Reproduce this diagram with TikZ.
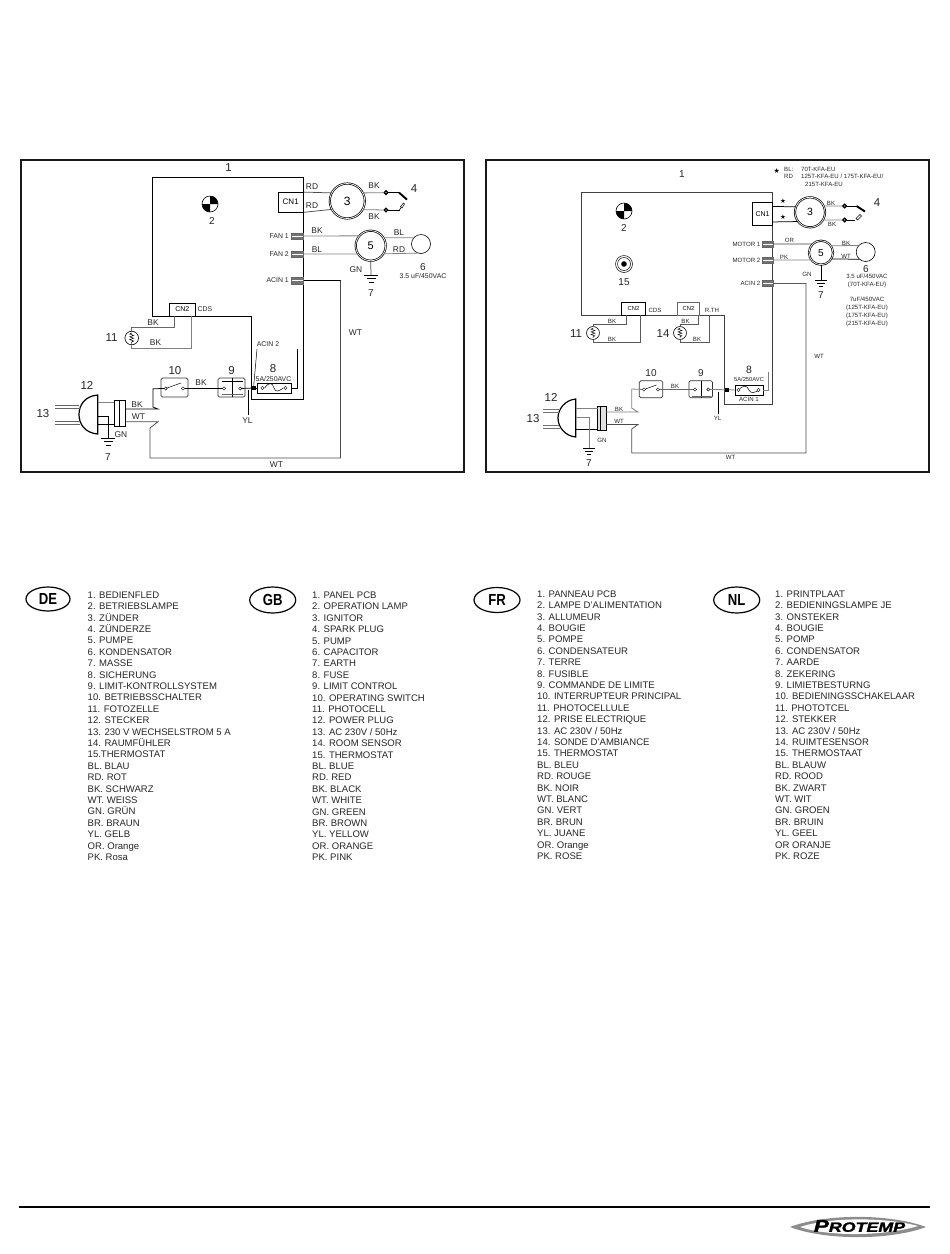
\documentclass[tikz,border=0pt]{standalone}
\usepackage{fontspec}
\setmainfont{Liberation Sans}
\newfontfamily\djv{DejaVu Sans}
\newfontfamily\logofont{Liberation Sans}[BoldItalicFeatures={FakeBold=1.6}]
\usetikzlibrary{calc}
\tikzset{
  x=1pt,y=-1pt,
  frame/.style={draw=black!90,line width=2},
  board/.style={draw=black,line width=.75},
  wire/.style={draw=black,line width=.75},
  gwire/.style={draw=black!50,line width=.8},
  lab/.style={inner sep=0,font=\fontsize{8.4}{9}\selectfont,text=black!85},
  labm/.style={inner sep=0,font=\fontsize{6.9}{8}\selectfont,text=black!85},
  labs/.style={inner sep=0,font=\fontsize{6.1}{7}\selectfont,text=black!85},
  num/.style={inner sep=0,font=\fontsize{11.5}{12}\selectfont,text=black!85},
  nums/.style={inner sep=0,font=\fontsize{10}{11}\selectfont,text=black!85},
  motor/.style={circle,draw=black,double=white,double distance=.7,line width=.7,inner sep=0},
  capac/.style={circle,draw=black,line width=.6,inner sep=0,minimum size=19},
  tbox/.style={draw=black,line width=.7,inner sep=0},
  ubox/.style={draw=black!80,line width=.7,rounded corners=1.5,inner sep=0},
  termA/.style={circle,draw=black,line width=1.3,fill=white,inner sep=0,minimum size=3.6},
  termB/.style={circle,draw=black,line width=.45,fill=white,inner sep=0,minimum size=3.2},
  hatchbox/.style={draw=black!60,fill=black!55,line width=.4,inner sep=0,minimum width=#1,minimum height=6.5,
    path picture={\draw[white,line width=.55] (path picture bounding box.west)--(path picture bounding box.east);}},
  legend/.style={anchor=north west,inner sep=0,align=left,font=\fontsize{9.55}{11.4}\selectfont,text=black!85},
  gnd/.pic={\draw[line width=.7] (-7,0)--(7,0); \draw[line width=.5] (-4.5,3.5)--(4.5,3.5); \draw[line width=.4] (-2.5,7)--(2.5,7);},
  lamp/.pic={\draw[line width=.6,fill=white] (0,0) circle[radius=8];
    \fill (0,0)--(8,0) arc[start angle=0,end angle=-90,radius=8]--cycle;
    \fill (0,0)--(-8,0) arc[start angle=180,end angle=90,radius=8]--cycle;},
  therm/.pic={\draw[line width=.6] (0,0) circle[radius=6.8];
    \draw[line width=.5] (0,-5)--(-2,-4)--(2,-2.6)--(-2,-1.2)--(2,.2)--(-2,1.6)--(2,3)--(0,4)--(0,5.5);},
  fwave/.pic={\draw[line width=.5] (-11,0) .. controls (-6,-6) and (-2,-6) .. (0,0) .. controls (2,5) and (6,3) .. (11,0);},
}
\begin{document}
\begin{tikzpicture}
\useasboundingbox (0,0) rectangle (950,1254);
\fill[white] (0,0) rectangle (950,1254);

%%%%%%%%%%%%%%%%%%% LEFT PANEL
\draw[frame] (21,159.5) rectangle (464,471.5);
\draw[board] (152,316) -- (152,177) -- (303.5,177) -- (303.5,399) -- (251.5,399) -- (251.5,316) -- cycle;
\node[num] (l1) at (228.5,167.5) {1};
\path (210,204) pic {lamp}; \node[nums] (l2) at (212,221) {2};

\node[tbox,fill=white,minimum width=25.5,minimum height=19.5,font=\fontsize{8}{9}\selectfont] (lcn1) at (290.7,202.2) {CN1};
\node[motor,minimum size=35,font=\fontsize{12}{12}\selectfont] (l3) at (347.3,201) {3};
\draw[wire,black!70] (lcn1.north east) -- (l3.153);
\draw[wire,black!70] (lcn1.south east) -- (l3.208);
\node[lab] at (312,186.5) {RD}; \node[lab] at (312,205.5) {RD};
\node[termA] (lt1) at (386,192.6) {}; \node[termA] (lt2) at (386,210) {};
\draw[gwire] (l3.27) -- (lt1); \draw[gwire] (l3.-29) -- (lt2);
\node[lab] at (374,186) {BK}; \node[lab] at (374,216.5) {BK};
\coordinate (lp1) at (399,192.6); \coordinate (lp2) at (399.5,210);
\draw[line width=.5] (lt1)--(lp1); \draw[line width=.5] (lt2)--(lp2);
\draw[line width=1.9] (lp1)--(407,199.6);
\draw[line width=.6] (399.5,210)--(401,207.5); \draw[line width=.5,fill=white] (400.5,206.5)--(403.5,203)--(404.5,204)--(402,208)--cycle;
\node[num] at (414,189) {4};

\node[hatchbox=12] (lfan1) at (297.5,236) {}; \node[hatchbox=12] (lfan2) at (297.5,254) {}; \node[hatchbox=12] (lac1) at (297.5,280.5) {};
\node[labm,anchor=east] at (289,236) {FAN 1};
\node[labm,anchor=east] at (289,254) {FAN 2};
\node[labm,anchor=east] at (289,280.5) {ACIN 1};
\node[motor,minimum size=30,font=\fontsize{11}{11}\selectfont] (l5) at (370.7,245.7) {5};
\draw[gwire] (lfan1.east) -- (l5.140); \draw[gwire] (lfan2.east) -- (l5.213.5);
\node[lab] at (317,231) {BK}; \node[lab] at (317,249.5) {BL};
\node[capac] (l6) at (421,244) {};
\draw[gwire] (l5.31) -- (l6.141); \draw[gwire] (l5.-32) -- (l6.-112);
\node[lab] at (399,233) {BL}; \node[lab] at (399,250) {RD};
\node[nums] at (423,267) {6};
\node[labm] at (423,276.5) {3.5 uF/450VAC};
\coordinate (lg1) at (371,275);
\draw[wire,black!70] (l5.south) -- (lg1);
\path (lg1) pic {gnd};
\node[lab] at (356,269.5) {GN};
\node[nums] at (371,293) {7};

\coordinate (lw1) at (340.5,280.5); \coordinate (lw2) at (340.5,458); \coordinate (lw3) at (150,458);
\draw[wire] (lac1.east) -- (lw1);
\draw[wire,black!70] (lw1) -- (lw2) -- (lw3) -- (150,428) -- (158,421.7) -- (125,421.7);
\node[lab] at (355.5,332.5) {WT}; \node[lab] at (276.5,465) {WT};

\node[tbox,fill=white,minimum width=26.5,minimum height=13,font=\fontsize{7}{8}\selectfont] (lcn2) at (182.3,309.5) {CN2};
\node[labm] at (205,309.5) {CDS};
\path (131.7,338) pic {therm};
\coordinate (lth1) at (131.7,331); \coordinate (lth2) at (131.7,345);
\draw[wire,black!60] (lth1) -- (131.7,327) -- (174,327) -- (174,316);
\draw[gwire] (lth2) -- (131.7,348) -- (191,348) -- (191,316);
\node[lab] at (153,323) {BK}; \node[lab] at (155.5,343) {BK};
\node[num] at (111.5,338) {11};

\node[ubox,minimum width=27,minimum height=19] (l10) at (174.5,387.5) {};
\node[termB] (ls1) at (165.7,388.5) {}; \node[termB] (ls2) at (183,388.5) {};
\draw[line width=.5] (ls1.20) -- (181,383);
\node[num] at (175,371) {10};
\node[ubox,minimum width=27,minimum height=19] (l9) at (231.5,387.5) {};
\draw[line width=.5] (232.7,378)--(232.7,397); \draw[line width=.8,black!60] (222,394.5)--(243,394.5); \draw[line width=.5] (222,381)--(243,381);
\node[termB] (l9a) at (224,388.5) {}; \node[termB] (l9b) at (240.2,388.5) {};
\node[num] at (231.5,371) {9};
\draw[wire] (ls2) -- (l9a);
\node[lab] at (201,382.5) {BK};
\node[tbox,line width=.5,minimum width=34,minimum height=10] (l8) at (274,388) {};
\node[fill=black,inner sep=0,minimum size=4.5] (lsq) at (253.5,388) {};
\draw[wire] (l9b) -- (lsq);
\draw[wire] (lsq) -- (l8.west);
\path (274,388) pic[xscale=.85] {fwave};
\node[termB] at (262.5,388) {}; \node[termB] at (285.5,388) {};
\coordinate (lf1) at (297.3,349);
\draw[wire] (l8.east) -- (297.3,388) -- (lf1);
\node[nums,font=\fontsize{11.5}{12}\selectfont] at (273,369) {8};
\node[labm] at (273.5,378.7) {5A/250AVC};
\node[labm] (lacin2) at (268,344.5) {ACIN 2};
\draw[line width=.5] (257,349) -- (lsq);
\coordinate (lyl) at (248,415);
\draw[wire] (248,390) -- (lyl);
\node[lab] at (247.5,421) {YL};

%% plug left
\draw[line width=1.2] (97.7,395) .. controls (85,396) and (79,405) .. (79,414.5) .. controls (79,424) and (85,433) .. (97.7,434) -- cycle;
\draw[line width=.7,black!60] (55,405) -- (79,405) (55,408) -- (79.5,408) (55,421) -- (79.5,421) (55,424) -- (80,424);
\node[tbox,line width=.9,minimum width=10.5,minimum height=26,fill=white] (lb) at (119.7,413.8) {};
\draw[line width=.9] (lb.north)--(lb.south);
\draw[gwire] (97.7,402) -- (114.3,402);
\coordinate (lg2) at (108,438);
\draw[wire] (97.7,416) -- (108,416) -- (lg2);
\draw[wire] (97.7,424.5)--(114.3,424.5);
\path (lg2) pic {gnd};
\draw[wire] (lb.east |- 0,409) -- (158,409) -- (153,407) -- (153,388.7) -- (ls1);
\draw[wire] (lb.east |- 0,421.7) -- (125,421.7);
\node[lab] at (137,405) {BK}; \node[lab] at (138.5,417) {WT}; \node[lab] at (121,434.5) {GN};
\node[nums] at (108,457) {7}; \node[num] at (87,385.5) {12}; \node[num] at (43,414) {13};

%%%%%%%%%%%%%%%%%%% RIGHT PANEL
\draw[frame] (486,159.5) rectangle (929,471.5);
\draw[board,black!75] (581,315) -- (581,192) -- (772.7,192) -- (772.7,404) -- (724.5,404) -- (724.5,315) -- cycle;
\node[nums] at (682,174) {1};
\path (624,211) pic {lamp}; \node[nums] at (624,228) {2};
\draw[line width=.5] (624,264) circle[radius=8.5] circle[radius=6.5];
\fill (624,264) circle[radius=2.8];
\node[nums] at (624,282) {15};

\node[inner sep=0,font=\djv\fontsize{7}{8}\selectfont] at (776.7,171) {★};
\node[labs,anchor=west] at (784,169) {BL:};
\node[labs,anchor=west] at (801,169) {70T-KFA-EU};
\node[labs,anchor=west] at (784,176.7) {RD};
\node[labs,anchor=west] at (801,176.7) {125T-KFA-EU / 175T-KFA-EU/};
\node[labs,anchor=west] at (805,184.5) {215T-KFA-EU};

\node[tbox,line width=.5,fill=white,minimum width=20.4,minimum height=23,font=\fontsize{7}{8}\selectfont] (rcn1) at (762.5,214.2) {CN1};
\node[motor,minimum size=30,font=\fontsize{10.5}{11}\selectfont] (r3) at (810,212.3) {3};
\draw[wire] (rcn1.north east) ++(0,4) -- (r3.159);
\draw[wire] (rcn1.south east) ++(0,-4) -- (r3.217.6);
\node[inner sep=0,font=\djv\fontsize{6.5}{7}\selectfont] at (783,201.5) {★};
\node[inner sep=0,font=\djv\fontsize{6.5}{7}\selectfont] at (783,217) {★};
\node[termA] (rt1) at (844.7,206) {}; \node[termA] (rt2) at (844.7,220) {};
\draw[gwire] (r3.24) -- (rt1); \draw[gwire] (r3.-30) -- (rt2);
\node[labs] at (831,203) {BK}; \node[labs] at (832,224.5) {BK};
\coordinate (rp1) at (856.5,206); \coordinate (rp2) at (855,220);
\draw[line width=.5] (rt1)--(rp1); \draw[line width=.5] (rt2)--(rp2);
\draw[line width=1.9] (rp1)--(865,211.5);
\draw[line width=.5,fill=white] (856,218.5)--(860,214.5)--(861.5,216)--(857.5,220)--cycle;
\node[num] at (877,203) {4};

\node[hatchbox=10.5] (rm1) at (767.5,244) {}; \node[hatchbox=10.5] (rm2) at (767.5,260) {}; \node[hatchbox=10.5] (rac2) at (767.5,283) {};
\node[labs,anchor=east] at (760.5,244.5) {MOTOR 1};
\node[labs,anchor=east] at (760.5,260.5) {MOTOR 2};
\node[labs,anchor=east] at (760.5,283.5) {ACIN 2};
\node[motor,minimum size=24,font=\fontsize{10}{11}\selectfont] (r5) at (821,252.7) {5};
\draw[wire,black!75] (rm1.east) -- (r5.135);
\draw[gwire] (rm2.east) -- (r5.216);
\node[labs] at (789.5,240) {OR}; \node[labs] at (784,257) {PK};
\node[capac] (r6) at (865.7,252) {};
\draw[gwire] (r5.34) -- (r6.138.5);
\draw[wire] (r5.-30.5) -- (r6.-132.5);
\node[labs] at (846,243) {BK}; \node[labs] at (846,256.5) {WT};
\node[nums] at (866,269) {6};
\node[labs,align=center,font=\fontsize{6.1}{7.8}\selectfont] at (867,281) {3.5 uF/450VAC\\(70T-KFA-EU)};
\node[labs,align=center,font=\fontsize{6.1}{7.9}\selectfont] at (867,312) {7uF/450VAC\\(125T-KFA-EU)\\(175T-KFA-EU)\\(215T-KFA-EU)};
\coordinate (rg1) at (821,280);
\draw[wire] (r5.south) -- (rg1);
\path (rg1) pic[scale=.85] {gnd};
\node[labs] at (807,274) {GN}; \node[nums] at (821,295) {7};

\coordinate (rw1) at (806,283); \coordinate (rw2) at (806,453); \coordinate (rw3) at (631.7,453);
\draw[gwire,black!65] (rac2.east) -- (rw1);
\draw[wire,black!70] (rw1) -- (rw2) -- (rw3) -- (631.7,429) -- (638,424.5) -- (606,424.5);
\node[labs] at (819,356) {WT}; \node[labs] at (730.7,457.5) {WT};

\node[tbox,line width=.55,fill=white,minimum width=23.5,minimum height=13,font=\fontsize{5.8}{7}\selectfont] (rcn2) at (633.5,308.5) {CN2};
\node[tbox,draw=black!60,line width=.55,fill=white,minimum width=21.5,minimum height=13,font=\fontsize{5.8}{7}\selectfont] (rcn3) at (688.5,308.5) {CN2};
\node[labs] at (655,310) {CDS}; \node[labs] at (712,310) {R.TH};
\path (593,333) pic[scale=.95] {therm};
\path (680,333) pic[scale=.95] {therm};
\draw[wire,black!65] (593,326.5) -- (593,324) -- (626,324) -- (626,315);
\draw[wire,black!65] (593,339.5) -- (593,342) -- (640,342) -- (640,315);
\draw[wire,black!65] (680,326.5) -- (680,324) -- (698,324) -- (698,315);
\draw[wire,black!65] (680,339.5) -- (680,342) -- (709,342) -- (709,315);
\node[labs] at (612,321) {BK}; \node[labs] at (612,339) {BK}; \node[labs] at (685.5,321) {BK}; \node[labs] at (697,339) {BK};
\node[num] at (576,334) {11}; \node[num] at (663,334) {14};

\node[ubox,minimum width=23.4,minimum height=17] (r10) at (651,389.2) {};
\node[termB] (rs1) at (644,389.5) {}; \node[termB] (rs2) at (658,389.5) {};
\draw[line width=.5] (rs1.20) -- (656.5,385);
\node[nums] at (651,373.5) {10};
\node[ubox,minimum width=23.5,minimum height=17] (r9) at (700.7,389.2) {};
\draw[line width=.5] (701.7,380.7)--(701.7,397.7); \draw[line width=.7,black!60] (692,396)--(711,396);
\node[termB] (r9a) at (695,389.5) {}; \node[termB] (r9b) at (708.3,389.5) {};
\node[nums] at (701,373.5) {9};
\draw[gwire,black!60,line width=.7] (rs2) -- (r9a);
\node[labs] at (675,386) {BK};
\node[tbox,line width=.5,minimum width=28,minimum height=9.5] (r8) at (749,390) {};
\node[fill=black,inner sep=0,minimum size=4] (rsq) at (727,389.7) {};
\draw[gwire] (r9b) -- (rsq);
\draw[gwire] (rsq) -- (r8.west);
\path (749,390) pic[xscale=.95,yscale=.85] {fwave};
\node[termB] at (738.5,390) {}; \node[termB] at (758.5,390) {};
\coordinate (rf1) at (768.3,372);
\draw[gwire] (r8.east) -- (768.3,390) -- (rf1);
\node[nums,font=\fontsize{10.5}{11}\selectfont] at (749,370) {8};
\node[labs,font=\fontsize{5.8}{7}\selectfont] at (749,379) {5A/250AVC};
\node[labs] at (749,399) {ACIN 1};
\coordinate (ryl) at (718,414);
\draw[wire] (718,392) -- (ryl);
\node[labs] at (717.5,418.5) {YL};

%% plug right
\draw[line width=1.2] (575.7,399) .. controls (565,400) and (558,409) .. (558,418) .. controls (558,427) and (565,436) .. (575.7,437) -- cycle;
\draw[line width=.7,black!55] (543,409) -- (558.5,409) (543,412) -- (558.5,412) (543,425) -- (559,425) (543,428) -- (559.5,428);
\node[tbox,line width=.8,fill=black!12,minimum width=8.5,minimum height=24.5] (rb) at (601.8,418.3) {};
\draw[line width=.6] (600,406)--(600,430.5);
\draw[gwire] (575.7,408) -- (597.5,408);
\draw[wire] (575.7,429) -- (597.5,429);
\coordinate (rg2) at (589,448);
\draw[gwire] (575.7,417.5) -- (589,417.5) -- (rg2);
\path (rg2) pic[scale=.85] {gnd};
\draw[gwire] (rb.east |- 0,412) -- (638,412) -- (631.7,408) -- (631.7,389) -- (rs1);
\draw[wire,black!70] (rb.east |- 0,424.5) -- (606,424.5);
\node[labs] at (619,409) {BK}; \node[labs] at (619,421) {WT}; \node[labs] at (602,440) {GN};
\node[nums] at (589,463) {7}; \node[num] at (551,397) {12}; \node[num] at (533,419) {13};

%%%%%%%%%%%%%%%%%%% LEGENDS
\newcommand\ovaltxt[1]{\scalebox{.82}[1]{\fontsize{16}{16}\selectfont\bfseries #1}}
\draw[line width=1.2] (48,599) ellipse[x radius=22,y radius=12];  \node[inner sep=0] (de) at (48,599) {\ovaltxt{DE}};
\draw[line width=1.2] (272.7,600) ellipse[x radius=23,y radius=13]; \node[inner sep=0] (gb) at (272.7,600) {\ovaltxt{GB}};
\draw[line width=1.2] (497,600) ellipse[x radius=23,y radius=12.5]; \node[inner sep=0] (fr) at (497,600) {\ovaltxt{FR}};
\draw[line width=1.2] (736.7,600) ellipse[x radius=23,y radius=13]; \node[inner sep=0] (nl) at (736.7,600) {\ovaltxt{NL}};

\node[legend] (ldeu) at (87.5,591.5) {1. BEDIENFLED\\2. BETRIEBSLAMPE\\3. ZÜNDER\\4. ZÜNDERZE\\5. PUMPE\\6. KONDENSATOR\\7. MASSE\\8. SICHERUNG\\9. LIMIT-KONTROLLSYSTEM\\10. BETRIEBSSCHALTER\\11. FOTOZELLE\\12. STECKER\\13. 230 V WECHSELSTROM 5 A\\14. RAUMFÜHLER\\15.THERMOSTAT\\BL. BLAU\\RD. ROT\\BK. SCHWARZ\\WT. WEISS\\GN. GRÜN\\BR. BRAUN\\YL. GELB\\OR. Orange\\PK. Rosa};
\node[legend] (lgb) at (312,591.7) {1. PANEL PCB\\2. OPERATION LAMP\\3. IGNITOR\\4. SPARK PLUG\\5. PUMP\\6. CAPACITOR\\7. EARTH\\8. FUSE\\9. LIMIT CONTROL\\10. OPERATING SWITCH\\11. PHOTOCELL\\12. POWER PLUG\\13. AC 230V / 50Hz\\14. ROOM SENSOR\\15. THERMOSTAT\\BL. BLUE\\RD. RED\\BK. BLACK\\WT. WHITE\\GN. GREEN\\BR. BROWN\\YL. YELLOW\\OR. ORANGE\\PK. PINK};
\node[legend] (lfr) at (537,590.5) {1. PANNEAU PCB\\2. LAMPE D'ALIMENTATION\\3. ALLUMEUR\\4. BOUGIE\\5. POMPE\\6. CONDENSATEUR\\7. TERRE\\8. FUSIBLE\\9. COMMANDE DE LIMITE\\10. INTERRUPTEUR PRINCIPAL\\11. PHOTOCELLULE\\12. PRISE ELECTRIQUE\\13. AC 230V / 50Hz\\14. SONDE D'AMBIANCE\\15. THERMOSTAT\\BL. BLEU\\RD. ROUGE\\BK. NOIR\\WT. BLANC\\GN. VERT\\BR. BRUN\\YL. JUANE\\OR. Orange\\PK. ROSE};
\node[legend] (lnl) at (775,590.5) {1. PRINTPLAAT\\2. BEDIENINGSLAMPE JE\\3. ONSTEKER\\4. BOUGIE\\5. POMP\\6. CONDENSATOR\\7. AARDE\\8. ZEKERING\\9. LIMIETBESTURNG\\10. BEDIENINGSSCHAKELAAR\\11. PHOTOTCEL\\12. STEKKER\\13. AC 230V / 50Hz\\14. RUIMTESENSOR\\15. THERMOSTAAT\\BL. BLAUW\\RD. ROOD\\BK. ZWART\\WT. WIT\\GN. GROEN\\BR. BRUIN\\YL. GEEL\\OR ORANJE\\PK. ROZE};

%%%%%%%%%%%%%%%%%%% FOOTER
\draw[line width=1.5] (19,1207) -- (930,1207);
\fill[black!45] (790,1227) .. controls (825,1213.5) and (890,1213.5) .. (926,1227) .. controls (890,1240.5) and (825,1240.5) .. cycle;
\fill[white] (800,1227) .. controls (830,1217) and (885,1217) .. (918,1226) .. controls (885,1236) and (830,1237) .. cycle;
\node[inner sep=0] (logo) at (859.5,1226) {\scalebox{1.32}[1]{\logofont\bfseries\itshape\fontsize{17}{17}\selectfont P\fontsize{13.5}{14}\selectfont ROTEMP}};
\end{tikzpicture}
\end{document}
